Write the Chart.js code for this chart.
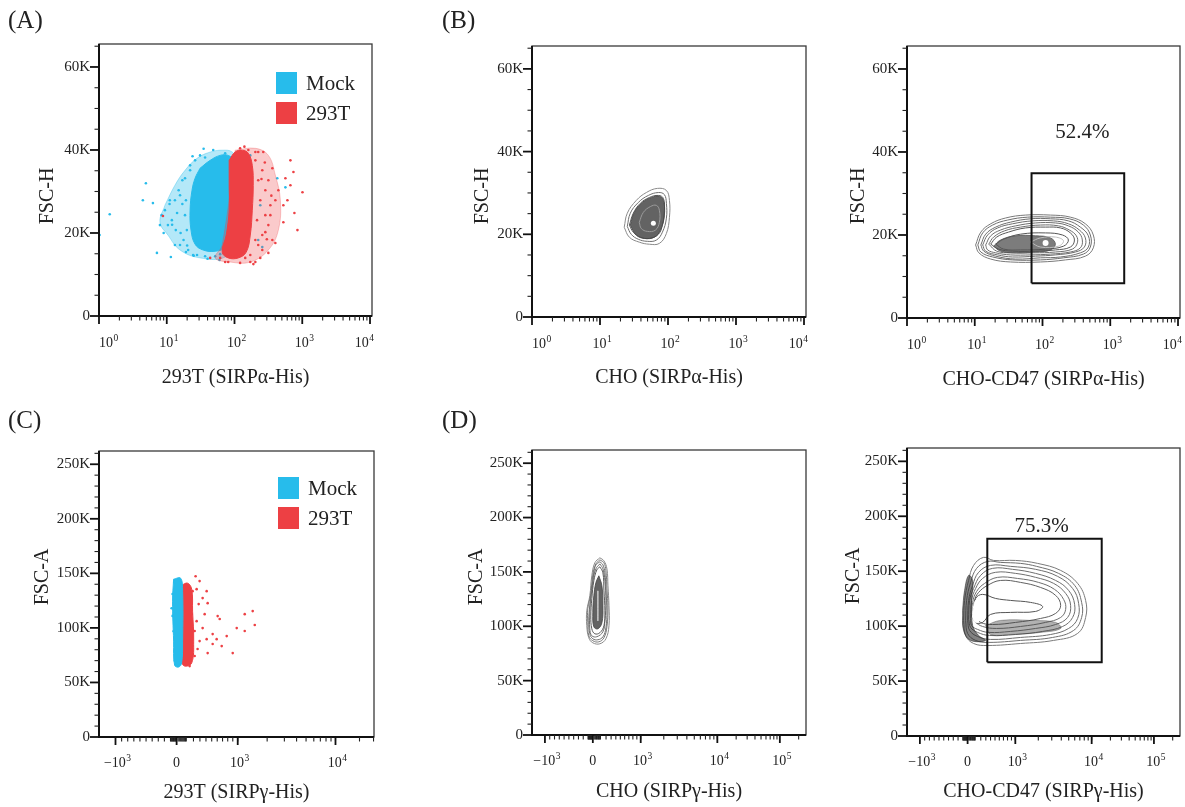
<!DOCTYPE html>
<html><head><meta charset="utf-8">
<script src="https://cdn.jsdelivr.net/npm/chart.js@4.4.1/dist/chart.umd.min.js"></script>
<style>
html,body{margin:0;padding:0;background:#fff;width:1185px;height:807px;overflow:hidden;position:relative;font-family:"Liberation Serif","Times New Roman",serif;}
canvas{position:absolute;}
.lbl{position:absolute;font-size:25px;line-height:25px;color:#222;z-index:5;}
</style></head><body>
<canvas id="cA"></canvas><canvas id="cB1"></canvas><canvas id="cB2"></canvas>
<canvas id="cC"></canvas><canvas id="cD1"></canvas><canvas id="cD2"></canvas>
<div class="lbl" style="left:8px;top:7px">(A)</div>
<div class="lbl" style="left:442px;top:7px">(B)</div>
<div class="lbl" style="left:8px;top:407px">(C)</div>
<div class="lbl" style="left:442px;top:407px">(D)</div>
<script>
// ---------- tick values & labels ----------
const xTicksLog = [1, 10, 100, 1000, 10000];
const xTickLabelsLog = ['10⁰', '10¹', '10²', '10³', '10⁴'];
const xTicksLgcC = [-1000, 0, 1000, 10000];
const xTickLabelsLgcC = ['−10³', '0', '10³', '10⁴'];
const xTicksLgcD = [-1000, 0, 1000, 10000, 100000];
const xTickLabelsLgcD = ['−10³', '0', '10³', '10⁴', '10⁵'];
const yTicksH = [0, 20, 40, 60];
const yTickLabelsH = ['0', '20K', '40K', '60K'];
const yTicksA = [0, 50, 100, 150, 200, 250];
const yTickLabelsA = ['0', '50K', '100K', '150K', '200K', '250K'];
const seriesNames = ['Mock', '293T'];

// ---------- panel A : 293T (SIRPα-His) vs FSC-H (K) ----------
const mockHaloA = [[9.4,26.7],[13.2,31.5],[18.6,35.1],[28.0,38.0],[43.7,39.5],[65.8,39.95],[92.5,39.5],[121,36.3],[114,27.9],[102,18.3],[72.8,14.2],[31.0,14.0],[15.7,15.9],[10.4,19.5],[7.93,22.6]];
const mockCoreA = [[31.0,35.6],[43.7,37.5],[61.4,38.7],[80.7,38.7],[95.7,37.5],[99,33.9],[95.7,29.1],[92.5,24.3],[86.3,19.5],[75.4,16.6],[51.8,15.6],[34.4,15.9],[26.2,17.3],[22.8,20.7],[22.1,25.5],[23.6,30.3],[26.2,33.2]];
const mockDotsA = [[1.02,19.5],[1.44,24.5],[4.44,27.9],[4.92,32.0],[6.25,27.2],[7.16,15.2],[7.93,21.9],[11.5,14.2],[13.2,17.1],[14.2,24.8],[15.7,29.1],[18.6,33.2],[19.2,15.4],[22.1,36.3],[28.0,14.7],[224,18.3],[257,16.6],[240,26.7],[171,38.7],[428,33.2],[564,31.0],[12,22],[16,20],[20,17],[24,38.5],[35,40.3],[17,27],[11,27],[9,20],[25,14.5],[40,13.8],[60,13.5],
  [9.4,25.5],[11.1,27.9],[11.9,23.1],[15,30.3],[17,32.7],[18.6,24.3],[17.7,18.3],[20.7,15.9],[22.1,35.1],[26.2,37.5],[31.0,38.7],[36.8,38.2],[24.5,14.7],[36.8,14.4],[51.8,14.4],[61.4,14.9],[13.6,20.7],[15.7,17.1],[10.4,21.9],[8.4,24.3],[13.2,27.9],[19.2,27.9],[19.8,20.7],[28,17.1],[72.8,39.2],[48.5,40.0]];
const t293HaloA = [[102,39.95],[203,40.4],[316,38.7],[401,33.9],[475,27.9],[444,20.7],[316,15.9],[171,13.0],[86.3,13.0],[51.8,14.0],[65.8,17.1]];
const t293CoreA = [[83.4,37.5],[102,39.5],[130,39.95],[160,39.2],[183,36.3],[189,31.5],[183,25.5],[171,19.5],[149,15.4],[114,14.0],[80.7,14.0],[65.8,15.4],[75.4,19.5],[83.4,25.5],[83.4,31.5]];
const t293DotsA = [[8.79,24.1],[266,39.5],[669,37.5],[1007,29.8],[849,20.7],[766,24.8],[604,27.9],[526,22.6],[564,33.2],[362,35.6],[444,30.3],[401,17.6],[316,15.2],[240,14.0],[203,13.0],[121,12.8],[72.8,13.0],[43.7,14.0],[526,26.7],[669,31.5],[338,24.3],[285,20.2],[741,34.7],[224,39.5],[280,37],[350,29],[250,33],[300,18.5],[190,12.5],[140,40.8],
  [203,37.5],[224,32.7],[240,27.9],[215,23.1],[203,18.3],[257,35.1],[285,30.3],[285,24.3],[257,19.5],[316,32.7],[338,26.7],[316,21.9],[171,14.7],[144,14.0],[102,14.2],[86.3,14.4],[61.4,14.0],[121,40.4],[160,40.0],[203,39.5],[224,17.1],[362,18.3],[401,27.9],[257,15.9],[80.7,13.0],[171,13.0]];

// ---------- panel B (CHO) ----------
const b1Ring1 = [[22.7,21.7],[25.2,25.1],[34.2,28.2],[48,30.1],[69.8,31.1],[94.7,30.6],[105,28.2],[105,24.1],[94.7,20.2],[74.7,17.8],[53.2,17.6],[37.8,18.1],[27,19.3]];
const b1Ring2 = [[25.2,21.9],[27.9,25.1],[36.6,27.7],[51.4,29.4],[72.2,30.1],[88.5,29.6],[94.7,27.5],[94.7,23.9],[82.7,20.5],[67.4,18.6],[49.7,18.3],[36.6,18.8],[28.8,20.0]];
const b1Ring3 = [[27.0,22.2],[30.9,25.1],[39.2,27.5],[53.2,28.9],[72.2,29.4],[85.5,28.7],[88.5,25.8],[82.7,22.2],[72.2,20.0],[53.2,19.0],[39.2,19.3],[30.9,20.5]];
const b1Core = [[27.9,22.2],[31.9,25.3],[41.9,27.7],[56.9,28.9],[74.7,29.2],[85.5,28.2],[88.5,24.6],[77.3,21.0],[63.0,19.3],[44.9,19.0],[34.2,19.8]];
const b1Ring4 = [[37.8,22.9],[43.4,25.3],[55,26.7],[67.4,27.0],[74.7,25.8],[74.7,22.9],[65.2,21.0],[49.7,20.7],[40.5,21.4]];
const b1Spot = [[60.9,22.7]];

// ---------- panel B (CHO-CD47) ----------
const b2Ring1 = [[10.3,17.6],[12.3,20.7],[17.2,22.7],[28.6,24.1],[56.2,24.8],[131,24.8],[258,24.3],[429,22.7],[562,20.0],[562,16.9],[429,14.9],[218,14.0],[93.5,13.5],[33.8,13.5],[17.2,14.2],[11.5,15.7]];
const b2Ring1b = [[11.1,17.6],[13.1,20.5],[18.4,22.4],[30.6,23.6],[60.2,24.3],[131,24.3],[249,23.9],[401,22.4],[508,20.0],[508,17.1],[401,15.4],[204,14.5],[93.5,14.0],[36.2,14.0],[18.4,14.7],[12.3,15.9]];
const b2Ring2 = [[12.3,17.6],[14.5,20.2],[20.4,21.9],[33.8,23.1],[66.6,23.9],[131,23.9],[241,23.4],[362,21.9],[475,19.8],[475,17.1],[362,15.7],[184,14.7],[93.5,14.5],[40.1,14.2],[20.4,14.9],[13.6,16.1]];
const b2Ring2b = [[13.1,17.6],[15.5,20.0],[21.8,21.7],[36.2,22.7],[71.3,23.4],[145,23.4],[241,22.7],[350,21.2],[429,19.3],[415,17.1],[306,15.9],[155,15.2],[78.9,14.9],[36.2,14.7],[21.8,15.2],[14.5,16.1]];
const b2Ring3 = [[14.5,17.6],[17.2,19.8],[24.1,21.2],[40.1,22.2],[78.9,22.9],[155,22.9],[241,22.2],[338,20.7],[387,18.8],[362,16.9],[258,15.9],[131,15.4],[66.6,15.2],[33.8,15.2],[20.4,15.7],[15.5,16.4]];
const b2Ring3b = [[16.1,17.8],[19.0,19.5],[27.6,21.0],[47.5,21.9],[93.5,22.4],[172,22.2],[249,21.2],[316,19.8],[327,18.1],[276,16.6],[155,15.9],[73.7,15.7],[33.8,15.7],[21.1,16.1]];
const b2Ring4 = [[17.2,17.8],[21.1,19.5],[31.6,20.7],[56.2,21.7],[111,21.9],[184,21.7],[258,20.5],[296,18.8],[258,17.1],[155,16.4],[78.9,16.1],[36.2,16.1],[22.5,16.6]];
const b2Ring5 = [[20.4,17.8],[26.7,19.0],[47.5,20.2],[111,20.5],[197,20.0],[241,18.8],[204,17.3],[111,16.6],[47.5,16.4],[26.7,16.6]];
const b2Core = [[19.0,17.3],[24.1,18.8],[40.1,19.8],[78.9,19.8],[131,19.3],[155,17.8],[131,16.4],[78.9,15.9],[40.1,15.7],[24.1,16.1]];
const b2Inner = [[66.6,18.3],[93.5,19.3],[155,19.5],[204,18.6],[172,17.3],[93.5,17.1]];
const b2Spot = [[111,18.1]];
const b2Gate = [[68.9,8.4],[68.9,34.9],[1607,34.9],[1607,8.4],[68.9,8.4]];
const b2Pct = [{x:387, y:44.8, text:'52.4%'}];

// ---------- panel C : 293T (SIRPγ-His) vs FSC-A (K) ----------
const mockCoreC = [[-49,144.7],[33,145.6],[55,133.7],[55,87.9],[44,67.8],[14,64.1],[-33,65.9],[-49,87.9],[-66,124.5]];
const mockDotsC = [[-66,131],[-66,111],[-49,97],[-33,79],[-82,118],[-40,142],[-30,70]];
const t293CoreC = [[44,139.2],[117,141.0],[174,135.5],[187,115.4],[203,87.9],[174,67.8],[79,65.0],[44,69.6]];
const t293DotsC = [[248,135.5],[344,127.3],[412,133.7],[280,121.8],[429,122.7],[378,112.6],[608,110.8],[646,108.1],[517,94.3],[412,89.7],[295,87.9],[218,97.1],[780,92.5],[590,89.7],[980,99.8],[1180,97.1],[1423,115.4],[1494,102.6],[1180,112.6],[429,76.9],[263,80.6],[684,83.3],[899,76.9],[517,85.2],[187,76.0],[174,112.6],[344,99.8],[248,106.2],[145,124.5],[295,142.9],[160,87.9],[218,74.2],[187,133.7],[232,147.4],[145,65.0]];

// ---------- panel D (CHO) ----------
const d1Ring1 = [[91,163],[161,160.2],[217,152.8],[237,137.2],[257,118.9],[257,100.5],[198,88.6],[91,83.9],[0,84.8],[-84,89.4],[-126,100.5],[-126,114.2],[-63,128.0],[-21,146.4],[19,158.4]];
const d1Ring1b = [[91,161.1],[161,158.4],[198,151.0],[217,134.4],[237,116.9],[217,99.5],[161,89.4],[75,85.7],[0,86.7],[-84,91.3],[-105,103.3],[-105,116.1],[-42,129.9],[0,147.3],[32,157.4]];
const d1Ring2 = [[91,159.3],[143,156.5],[179,149.2],[198,132.6],[217,114.2],[198,98.6],[143,90.3],[60,87.6],[0,88.5],[-63,93.1],[-84,105.1],[-63,118.9],[-21,132.6],[8,149.2],[32,156.5]];
const d1Ring2b = [[91,157.4],[143,152.8],[179,141.8],[198,123.4],[179,105.1],[143,95.0],[45,90.4],[-21,91.3],[-63,97.7],[-63,112.4],[-42,128.0],[0,141.8],[32,152.8]];
const d1Ring3 = [[91,154.7],[143,149.2],[161,132.6],[179,114.2],[161,100.5],[91,94.1],[19,93.1],[-21,97.7],[-42,109.6],[-21,125.3],[8,141.8],[45,151.9]];
const d1Core = [[75,146.4],[125,137.2],[143,118.9],[125,103.2],[60,97.7],[8,99.5],[0,112.4],[8,128.0],[32,140.0]];
const d1Streak = [[60,132.6],[60,118.9],[60,105.1]];

// ---------- panel D (CHO-CD47) ----------
const d2Ring1 = [[-84,105.2],[-63,123.4],[8,141.6],[75,155.3],[255,162.6],[468,159.8],[1009,159.8],[1961,157.1],[3926,150.7],[6550,138.9],[8337,123.4],[8337,107.9],[6550,93.4],[3175,87.0],[1173,84.2],[337,82.4],[75,84.2],[-42,91.5]];
const d2Ring1b = [[-42,105.2],[-21,123.4],[32,139.8],[125,152.6],[337,158.9],[631,158.0],[1173,157.1],[1902,154.4],[3690,148.0],[5984,137.1],[7390,121.6],[7390,107.9],[5803,96.1],[3083,89.7],[1173,87.0],[358,85.2],[108,87.0],[0,93.4]];
const d2Ring2 = [[0,105.2],[8,123.4],[60,137.1],[160,149.0],[402,155.3],[878,154.4],[1845,151.7],[3583,145.3],[5630,134.3],[6750,120.7],[6550,107.0],[4994,97.9],[2901,92.4],[1173,89.7],[402,87.9],[142,90.6],[19,96.1]];
const d2Ring2b = [[8,106.1],[19,123.4],[75,134.3],[197,146.2],[446,152.6],[929,151.7],[1845,148.0],[3373,141.6],[4994,132.5],[5984,119.8],[5630,107.9],[4169,99.7],[2279,95.2],[1009,92.4],[380,91.5],[142,94.3],[32,98.8]];
const d2Ring3 = [[32,107.0],[45,123.4],[108,134.3],[235,143.4],[514,149.0],[1009,148.0],[1845,144.4],[3175,138.9],[4563,129.8],[5300,118.9],[4842,107.9],[3373,101.5],[1845,97.9],[878,95.2],[358,94.3],[142,97.0],[45,100.6]];
const d2Ring3b = [[45,108.8],[60,121.6],[125,131.6],[275,138.9],[560,144.4],[1072,143.4],[2018,139.8],[3273,133.4],[4296,124.3],[4563,115.2],[3926,107.9],[2494,103.4],[1173,99.7],[537,97.9],[235,99.7],[91,104.3]];
const d2Ring4 = [[75,109.7],[91,123.4],[160,130.7],[337,137.1],[631,141.6],[1173,139.8],[2144,135.2],[3373,128.0],[3926,118.9],[3373,111.6],[2144,107.0],[1009,103.4],[446,101.5],[197,103.4]];
const d2Inner = [[60,112.5],[108,125.2],[235,128.9],[514,125.2],[878,123.4],[1587,121.6],[2279,117.9],[1845,113.4],[878,112.5],[402,110.7],[235,103.4],[108,103.4]];
const d2LeftDark = [[-105,114.3],[-63,132.5],[8,146.2],[60,141.6],[45,123.4],[60,100.6],[160,91.5],[295,87.0],[32,87.0],[-84,96.1]];
const d2BottomDark = [[295,100.6],[631,105.2],[1587,105.2],[3373,103.4],[3926,97.9],[2144,94.3],[878,92.4],[402,92.4]];
const d2White = [[60,112.5],[108,123.4],[197,120.7],[216,109.7],[142,103.4],[75,105.2]];
const d2Gate = [[331,67.2],[331,179.6],[14500,179.6],[14500,67.2],[331,67.2]];
const d2Pct = [{x:2211, y:190.8, text:'75.3%'}];

// ---------- colours ----------
const CYAN = '#27BCEB', RED = '#ED4044';

// ---------- logicle-like display transform (scale definition) ----------
const LGC = {neg: 1000, pow: 0.8, d1: 1.6, d2: 1.305};
function toU(v){
  if (v < 0) return v / LGC.neg;
  if (v <= 1000) return Math.pow(v / 1000, LGC.pow);
  if (v <= 10000) return 1 + LGC.d1 * Math.log10(v / 1000);
  return 1 + LGC.d1 + LGC.d2 * Math.log10(v / 10000);
}
function fromU(u){
  if (u < 0) return u * LGC.neg;
  if (u <= 1) return 1000 * Math.pow(u, 1 / LGC.pow);
  if (u <= 1 + LGC.d1) return 1000 * Math.pow(10, (u - 1) / LGC.d1);
  return 10000 * Math.pow(10, (u - 1 - LGC.d1) / LGC.d2);
}
class LogicleScale extends Chart.Scale {
  static id = 'logicle';
  static defaults = {};
  determineDataLimits(){ this.min = this.options.min; this.max = this.options.max; }
  buildTicks(){ return (this.options.majorTicks || []).map(v => ({value: v})); }
  getLabelForValue(v){ return String(v); }
  configure(){ super.configure(); this._t0 = toU(this.min); this._t1 = toU(this.max); }
  getPixelForValue(v){
    if (v === null || v === undefined || isNaN(v)) return NaN;
    return this.getPixelForDecimal((toU(v) - this._t0) / (this._t1 - this._t0));
  }
  getValueForPixel(p){ return fromU(this._t0 + this.getDecimalForPixel(p) * (this._t1 - this._t0)); }
}
Chart.register(LogicleScale);

// minor tick marks
const minorLog = []; for (let n = 0; n < 4; n++) for (let k = 2; k < 10; k++) minorLog.push(k * Math.pow(10, n));
const minorLgc = [];
for (let k = 1; k < 10; k++) { minorLgc.push(-100 * k, -10 * k, 10 * k, 100 * k, 1000 * k, 10000 * k); }
minorLgc.push(200000);
const minorH = [5,10,15,25,30,35,45,50,55,65];
const minorA = []; for (let k = 1; k <= 26; k++) if (k % 5) minorA.push(k * 10);

// ---------- drawing helpers ----------
function pts(a){ return a.map(p => ({x: p[0], y: p[1]})); }
function closed(a){ const d = pts(a); d.push({x: a[0][0], y: a[0][1]}); return d; }
function ring(a, color, w){ return {data: closed(a), showLine: true, borderColor: color, borderWidth: w || 1, pointRadius: 0, tension: 0.4, fill: false}; }
function blob(a, fillc){ return {data: closed(a), showLine: true, borderColor: fillc, borderWidth: 1, backgroundColor: fillc, fill: 'shape', pointRadius: 0, tension: 0.4}; }
function dots(a, color, r){ return {data: pts(a), showLine: false, pointRadius: r || 1.3, pointBackgroundColor: color, backgroundColor: color, borderColor: color, pointBorderWidth: 0}; }
function gate(a){ return {data: pts(a), showLine: true, borderColor: '#111', borderWidth: 2, pointRadius: 0, tension: 0, fill: false}; }
function layers(list){ return list.map((d, i) => Object.assign(d, {order: list.length - i})); }

const SUP = {'⁰':'0','¹':'1','²':'2','³':'3','⁴':'4','⁵':'5','⁶':'6','⁷':'7','⁸':'8','⁹':'9'};
function drawPow(c, label, x, y, mode){
  let base = '', sup = '';
  for (const ch of label) { if (SUP[ch]) sup += SUP[ch]; else base += ch; }
  c.font = '14px "Liberation Serif"'; const bw = c.measureText(base).width;
  c.font = '9.5px "Liberation Serif"'; const sw = sup ? c.measureText(sup).width + 0.5 : 0;
  const tw = bw + sw;
  let x0;
  if (mode === 'left') x0 = x;
  else if (mode === 'last') x0 = x + 4 - tw;
  else x0 = x - tw / 2 + (sup ? 2 : 0);
  c.textAlign = 'left'; c.textBaseline = 'alphabetic';
  c.font = '14px "Liberation Serif"'; c.fillText(base, x0, y);
  if (sup) { c.font = '9.5px "Liberation Serif"'; c.fillText(sup, x0 + bw + 0.5, y - 6); }
}

const flowAxes = {
  id: 'flowAxes',
  afterDraw(chart, args, o){
    const c = chart.ctx, a = chart.chartArea, xs = chart.scales.x, ys = chart.scales.y;
    c.save();
    const ln = (x1, y1, x2, y2, w, col) => { c.strokeStyle = col; c.lineWidth = w; c.beginPath(); c.moveTo(x1, y1); c.lineTo(x2, y2); c.stroke(); };
    c.strokeStyle = '#3a3a3a'; c.lineWidth = 1.3;
    c.strokeRect(a.left, a.top, a.right - a.left, a.bottom - a.top);
    ln(a.left, a.top, a.left, a.bottom + 1, 2, '#111');
    ln(a.left - 1, a.bottom, a.right, a.bottom, 2, '#111');
    const inX = v => v >= xs.min && v <= xs.max, inY = v => v >= ys.min && v <= ys.max;
    o.xMinor.filter(inX).forEach(v => { const p = xs.getPixelForValue(v); ln(p, a.bottom, p, a.bottom + 4.5, 1.1, '#222'); });
    o.xMajor.filter(inX).forEach(v => { const p = xs.getPixelForValue(v); ln(p, a.bottom, p, a.bottom + 8, 1.8, '#111'); });
    o.yMinor.filter(inY).forEach(v => { const p = ys.getPixelForValue(v); ln(a.left - 4.5, p, a.left, p, 1.1, '#222'); });
    o.yMajor.filter(inY).forEach(v => { const p = ys.getPixelForValue(v); ln(a.left - 9, p, a.left, p, 1.8, '#111'); });
    c.fillStyle = '#222';
    o.xMajor.forEach((v, i) => {
      let mode = 'center';
      if (o.innerX && i === 0) mode = 'left';
      if (o.innerX && i === o.xMajor.length - 1) mode = 'last';
      drawPow(c, o.xLabels[i], xs.getPixelForValue(v), a.bottom + o.xLabelDy, mode);
    });
    c.textAlign = 'center'; c.textBaseline = 'middle';
    c.font = '20px "Liberation Serif"';
    c.fillText(o.xTitle, (a.left + a.right) / 2, a.bottom + o.xTitleDy);
    c.save(); c.translate(a.left + o.yTitleDx, a.top + o.yTitleDy); c.rotate(-Math.PI / 2); c.fillText(o.yTitle, 0, 0); c.restore();
    if (o.legend) {
      const L = o.legend; c.font = '21px "Liberation Serif"'; c.textAlign = 'left';
      L.items.forEach((it, i) => {
        const x = a.left + L.dx, y = a.top + L.dy + i * L.gap;
        c.fillStyle = it.color; c.fillRect(x, y, 21, 22);
        c.fillStyle = '#222'; c.fillText(it.text, x + 30, y + 12);
      });
    }
    if (o.notes) {
      c.font = '21px "Liberation Serif"'; c.textAlign = 'center'; c.fillStyle = '#222';
      o.notes.forEach(n => c.fillText(n.text, xs.getPixelForValue(n.x), ys.getPixelForValue(n.y)));
    }
    c.restore();
  }
};

const tickFont = {family: '"Liberation Serif", serif', size: 15};
function logX(){ return {type: 'logarithmic', min: 1, max: 10700, grid: {display: false, drawTicks: false}, border: {display: false},
  afterBuildTicks: s => { s.ticks = xTicksLog.map(v => ({value: v})); },
  ticks: {display: false, autoSkip: false, maxRotation: 0}}; }
function lgcX(max, ticks){ return {type: 'logicle', min: -1270, max: max, majorTicks: ticks, grid: {display: false, drawTicks: false}, border: {display: false},
  ticks: {display: false, autoSkip: false, maxRotation: 0}}; }
function linY(max, ticks, labels){ return {type: 'linear', min: 0, max: max, grid: {display: false, drawTicks: false}, border: {display: false},
  afterBuildTicks: s => { s.ticks = ticks.map(v => ({value: v})); },
  ticks: {padding: 9, font: tickFont, color: '#222', autoSkip: false, callback: (v, i) => labels[i]}}; }

function build(id, box, xScale, yScale, datasets, deco){
  const YW = 80, XH = 80, PT = 20, PR = 20;
  const cv = document.getElementById(id);
  cv.width = box.r - box.l + YW + PR; cv.height = box.b - box.t + PT + XH;
  cv.style.left = (box.l - YW) + 'px'; cv.style.top = (box.t - PT) + 'px';
  xScale.afterFit = s => { s.height = XH; };
  yScale.afterFit = s => { s.width = YW; };
  return new Chart(cv, {type: 'scatter', data: {datasets: layers(datasets)},
    options: {responsive: false, animation: false, devicePixelRatio: 1, events: [],
      layout: {padding: {top: PT, right: PR, left: 0, bottom: 0}},
      plugins: {legend: {display: false}, tooltip: {enabled: false}, flowAxes: deco},
      scales: {x: xScale, y: yScale}},
    plugins: [flowAxes]});
}

const LINE = '#6e6e6e', DARK = 'rgba(72,72,72,0.85)';
const legendItems = [{text: seriesNames[0], color: CYAN}, {text: seriesNames[1], color: RED}];
const logDeco = {xMajor: xTicksLog, xLabels: xTickLabelsLog, xMinor: minorLog, innerX: true, xLabelDy: 31, yMajor: yTicksH, yMinor: minorH};

// A
build('cA', {l: 99, t: 44, r: 372, b: 316}, logX(), linY(65.536, yTicksH, yTickLabelsH), [
  blob(mockHaloA, 'rgba(39,188,235,0.35)'), dots(mockDotsA, CYAN), blob(mockCoreA, CYAN),
  blob(t293HaloA, 'rgba(237,64,68,0.28)'), blob(t293CoreA, RED), dots(t293DotsA, RED)
], Object.assign({}, logDeco, {xTitle: '293T (SIRPα-His)', yTitle: 'FSC-H',
    xTitleDy: 62, yTitleDx: -51, yTitleDy: 152, legend: {dx: 177, dy: 28, gap: 30, items: legendItems}}));

// B1
build('cB1', {l: 532, t: 46, r: 806, b: 317}, logX(), linY(65.536, yTicksH, yTickLabelsH), [
  ring(b1Ring1, '#8a8a8a'), ring(b1Ring2, LINE), ring(b1Ring3, '#5a5a5a'), blob(b1Core, DARK), ring(b1Ring4, '#9a9a9a'), dots(b1Spot, '#fff', 2.5)
], Object.assign({}, logDeco, {xTitle: 'CHO (SIRPα-His)', yTitle: 'FSC-H', xTitleDy: 61, yTitleDx: -49, yTitleDy: 150}));

// B2
build('cB2', {l: 907, t: 46, r: 1180, b: 318}, logX(), linY(65.536, yTicksH, yTickLabelsH), [
  ring(b2Ring1, '#7a7a7a'), ring(b2Ring1b, LINE), ring(b2Ring2, LINE), ring(b2Ring2b, LINE), ring(b2Ring3, LINE), ring(b2Ring3b, LINE),
  ring(b2Ring4, '#5a5a5a'), blob(b2Core, 'rgba(80,80,80,0.75)'), ring(b2Ring5, '#555'), ring(b2Inner, '#bbbbbb'), dots(b2Spot, '#fff', 3), gate(b2Gate)
], Object.assign({}, logDeco, {xTitle: 'CHO-CD47 (SIRPα-His)', yTitle: 'FSC-H', xTitleDy: 62, yTitleDx: -48, yTitleDy: 150, notes: b2Pct}));

// C
build('cC', {l: 99, t: 451, r: 374, b: 737}, lgcX(30400, xTicksLgcC), linY(262.144, yTicksA, yTickLabelsA), [
  blob(t293CoreC, RED), dots(t293DotsC, RED), blob(mockCoreC, CYAN), dots(mockDotsC, CYAN)
], {xMajor: xTicksLgcC, xLabels: xTickLabelsLgcC, xMinor: minorLgc, xLabelDy: 30, yMajor: yTicksA, yMinor: minorA, xTitle: '293T (SIRPγ-His)', yTitle: 'FSC-A',
    xTitleDy: 56, yTitleDx: -56, yTitleDy: 126, legend: {dx: 179, dy: 26, gap: 30, items: legendItems}});

// D1
build('cD1', {l: 532, t: 450, r: 806, b: 735}, lgcX(262144, xTicksLgcD), linY(262.144, yTicksA, yTickLabelsA), [
  ring(d1Ring1, '#8a8a8a'), ring(d1Ring1b, '#7a7a7a'), ring(d1Ring2, LINE), ring(d1Ring2b, LINE), ring(d1Ring3, '#5a5a5a'), blob(d1Core, DARK), ring(d1Streak, '#cfcfcf')
], {xMajor: xTicksLgcD, xLabels: xTickLabelsLgcD, xMinor: minorLgc, xLabelDy: 30, yMajor: yTicksA, yMinor: minorA, xTitle: 'CHO (SIRPγ-His)', yTitle: 'FSC-A',
    xTitleDy: 57, yTitleDx: -55, yTitleDy: 127});

// D2
build('cD2', {l: 907, t: 448, r: 1180, b: 736}, lgcX(262144, xTicksLgcD), linY(262.144, yTicksA, yTickLabelsA), [
  ring(d2Ring1, '#7a7a7a'), ring(d2Ring1b, LINE), ring(d2Ring2, LINE), ring(d2Ring2b, LINE), ring(d2Ring3, LINE), ring(d2Ring3b, LINE), ring(d2Ring4, '#5f5f5f'),
  blob(d2BottomDark, 'rgba(60,60,60,0.4)'), blob(d2LeftDark, 'rgba(45,45,45,0.6)'), ring(d2Inner, '#555'),
  blob(d2White, '#ffffff'), gate(d2Gate)
], {xMajor: xTicksLgcD, xLabels: xTickLabelsLgcD, xMinor: minorLgc, xLabelDy: 30, yMajor: yTicksA, yMinor: minorA, xTitle: 'CHO-CD47 (SIRPγ-His)', yTitle: 'FSC-A',
    xTitleDy: 56, yTitleDx: -53, yTitleDy: 128, notes: d2Pct});
</script>
</body></html>
